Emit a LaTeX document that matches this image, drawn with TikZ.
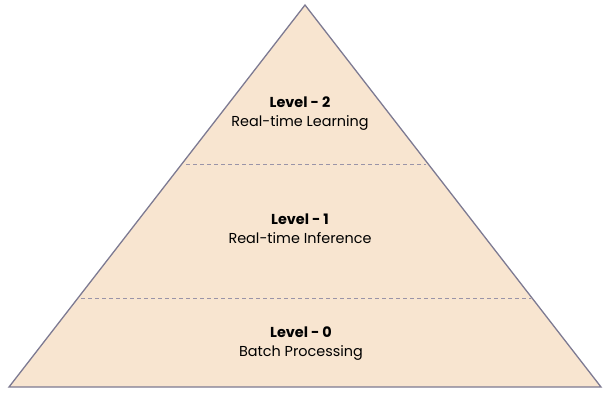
\documentclass[tikz,border=0pt]{standalone}
\usepackage{fontspec}
\setmainfont{Poppins}
\usepackage{tikz}
\usepackage{xcolor}
\definecolor{peach}{HTML}{F8E5D0}
\definecolor{edgecol}{HTML}{7D7A92}
\definecolor{cutcol}{HTML}{9A94A8}

\begin{document}
\begin{tikzpicture}[x=1pt,y=-1pt]
	\tikzstyle{side} = [draw=edgecol, line width=1.3, fill=peach, line join=miter]
	\tikzstyle{cut} = [draw=cutcol, line width=1, dash pattern=on 4pt off 3pt]
	\tikzstyle{level} = [align=center, font=\fontsize{14.4}{18.5}\selectfont, inner sep=0pt]
	\useasboundingbox (0,0) rectangle (615,400);
		\coordinate (top) at (305,5);
		\coordinate (bl) at (9,387);
		\coordinate (br) at (601,387);
		\coordinate (c2l) at (186,164);
		\coordinate (c2r) at (426,164);
		\coordinate (c1l) at (81,298);
		\coordinate (c1r) at (531,298);
	\filldraw[side] (top) -- (br) -- (bl) -- cycle;
	\draw[cut] (c2l) -- (c2r);
	\draw[cut] (c1l) -- (c1r);
		\node[level] (l2) at (300,113.5) {\textbf{Level - 2}\\Real-time Learning};
		\node[level] (l1) at (300,228.5) {\textbf{Level - 1}\\Real-time Inference};
		\node[level] (l0) at (301,343.5) {\textbf{Level - 0}\\Batch Processing};
	\end{tikzpicture}
\end{document}
